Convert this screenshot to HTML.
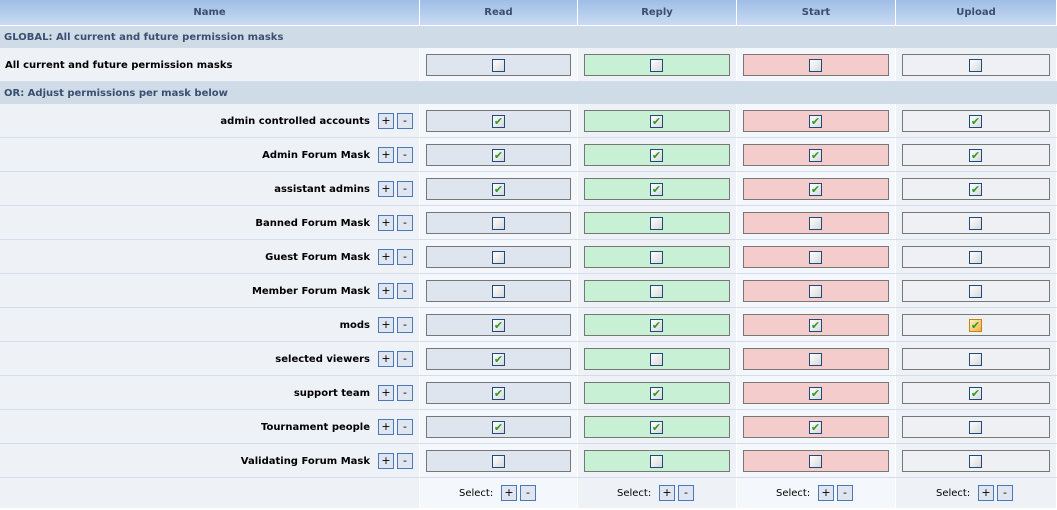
<!DOCTYPE html>
<html><head><style>
body{margin:0;width:1057px;height:510px;background:#fff;font-family:"DejaVu Sans","Liberation Sans",sans-serif;overflow:hidden;position:relative}
div{position:absolute;box-sizing:border-box}
.h{top:0;height:25px;background:linear-gradient(#9ebde6,#c9dbf2);color:#3a4f70;font-size:10px;font-weight:bold;text-align:center;line-height:26px}
.sec{left:0;width:1057px;height:22px;background:#d0dbe8;color:#3a4f70;font-size:10px;font-weight:bold;line-height:24px;padding-left:4px}
.c{height:33px}
.box{height:22px;border:1px solid #777}
.cb{width:13px;height:13px;border:1px solid #1f4a7a;background:linear-gradient(135deg,#fff,#d8d8d8);color:#2a9a2a;font-size:11px;line-height:11px;text-align:center;font-weight:bold}
.lbl{font-size:10px;font-weight:bold;color:#000;text-align:right}
.bt{width:16px;height:16px;border:1px solid #4a78bb;background:#e0e6f0;font-size:11px;text-align:center;line-height:14px;color:#000}
</style></head><body>
<script>
var cols=[[0,419],[420,157],[578,158],[737,158],[896,160]];
var names=["Name","Read","Reply","Start","Upload"];
var cbg=["#eef1f6","#f4f7fb","#eef1f6","#f4f7fb","#eef1f6"];
var fill=[null,"#dfe5ee","#c8f0d4","#f5cccc","#eef0f4"];
var h="";
for(var i=0;i<5;i++)h+='<div class="h" style="left:'+cols[i][0]+'px;width:'+cols[i][1]+'px">'+names[i]+'</div>';
h+='<div class="sec" style="top:26px">GLOBAL: All current and future permission masks</div>';
h+='<div class="sec" style="top:82px">OR: Adjust permissions per mask below</div>';
function row(top,ht,label,checks,right,orange){
 for(var i=0;i<5;i++){
  h+='<div class="c" style="left:'+cols[i][0]+'px;width:'+cols[i][1]+'px;top:'+top+'px;height:'+ht+'px;background:'+cbg[i]+'"></div>';
  if(i>0&&checks){
   var bx=cols[i][0]+6,bw=cols[i][1]-12;
   h+='<div class="box" style="left:'+bx+'px;width:'+bw+'px;top:'+(top+6)+'px;background:'+fill[i]+'"></div>';
   var st=(orange&&i==4)?'border-color:#c8801a;background:linear-gradient(135deg,#fff3c0,#f0b040);':'';
   h+='<div class="cb" style="left:'+(cols[i][0]+Math.round(cols[i][1]/2)-7)+'px;top:'+(top+11)+'px;'+st+'">'+(checks[i-1]?'✔':'')+'</div>';
  }
 }
 if(right){
  h+='<div class="lbl" style="left:0;width:370px;top:'+(top+12)+'px">'+label+'</div>';
  h+='<div class="bt" style="left:378px;top:'+(top+9)+'px">+</div><div class="bt" style="left:397px;top:'+(top+9)+'px">-</div>';
 }else h+='<div class="lbl" style="left:5px;text-align:left;top:'+(top+12)+'px">'+label+'</div>';
 h+='<div style="left:0;width:1057px;top:'+(top+ht)+'px;height:1px;background:#d5dde8"></div>';
}
row(48,33,"All current and future permission masks",[0,0,0,0],false);
var R=[["admin controlled accounts",[1,1,1,1]],["Admin Forum Mask",[1,1,1,1]],["assistant admins",[1,1,1,1]],["Banned Forum Mask",[0,0,0,0]],["Guest Forum Mask",[0,0,0,0]],["Member Forum Mask",[0,0,0,0]],["mods",[1,1,1,1],1],["selected viewers",[1,0,0,0]],["support team",[1,1,1,1]],["Tournament people",[1,1,1,0]],["Validating Forum Mask",[0,0,0,0]]];
for(var k=0;k<R.length;k++)row(104+k*34,33,R[k][0],R[k][1],true,R[k][2]);
var t=478;
for(var i=0;i<5;i++){
 h+='<div style="left:'+cols[i][0]+'px;width:'+cols[i][1]+'px;top:'+t+'px;height:30px;background:'+cbg[i]+'"></div>';
 if(i>0){var cx=cols[i][0]+Math.round(cols[i][1]/2);
  h+='<div style="left:'+(cx-40)+'px;top:'+(t+10)+'px;font-size:10px;color:#000">Select:</div>';
  h+='<div class="bt" style="left:'+(cx+2)+'px;top:'+(t+7)+'px">+</div><div class="bt" style="left:'+(cx+21)+'px;top:'+(t+7)+'px">-</div>';}
}
document.write(h);
</script>
</body></html>
